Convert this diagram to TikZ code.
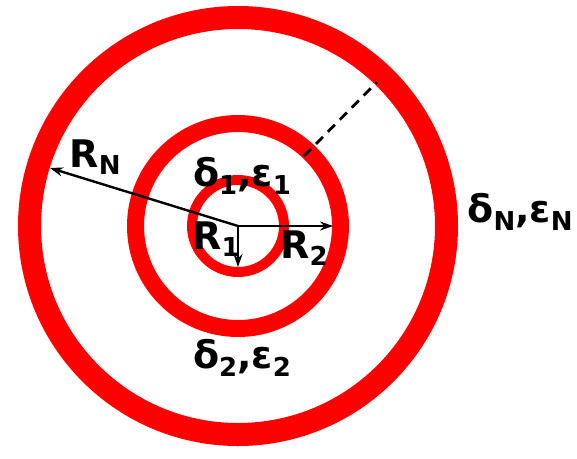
\documentclass[tikz,border=0pt]{standalone}
\usepackage{fontspec}
\setmainfont{DejaVu Sans}
\usetikzlibrary{arrows.meta}
\newcommand{\pedice}[1]{\raisebox{-0.2em}{\fontsize{26}{26}\selectfont #1}}

\begin{document}
\begin{tikzpicture}[x=1pt, y=-1pt, line cap=round, line join=round,
    etich/.style={font=\bfseries\fontsize{38}{38}\selectfont, inner sep=0pt},
    raggio/.style={-{Stealth[length=13pt,width=9pt]}, line width=2.4pt}]
  \useasboundingbox (0,0) rectangle (577,458);
  % centro comune degli anelli
  \coordinate (O) at (238,226);

  % anelli rossi (esterno, medio, interno)
  \fill[red, even odd rule] (O) circle[radius=220] (O) circle[radius=197];
  \fill[red, even odd rule] (O) circle[radius=111] (O) circle[radius=94];
  \fill[red, even odd rule] (O) circle[radius=51] (O) circle[radius=41];

  % estremi delle frecce dei raggi
  \coordinate (pN) at (50,168);
  \coordinate (p2) at (333,226);
  \coordinate (p1) at (238,267);
  \draw[raggio] (O) -- (pN);
  \draw[raggio] (O) -- (p2);
  \draw[raggio] (O) -- (p1);

  % tratteggio tra anello medio ed esterno
  \coordinate (d1) at (304,156);
  \coordinate (d2) at (377,82);
  \draw[line width=2.8pt, line cap=butt, dash pattern=on 10pt off 7pt] (d1) -- (d2);

  % etichette
  \node[etich] (RN) at (95,157) {R\pedice{N}};
  \node[etich] (R1) at (216,239) {R\pedice{1}};
  \node[etich] (R2) at (304,248) {R\pedice{2}};
  \node[etich] (de1) at (242,176) {δ\pedice{1},ε\pedice{1}};
  \node[etich] (de2) at (242,358) {δ\pedice{2},ε\pedice{2}};
  \node[etich] (deN) at (520,212) {δ\pedice{N},ε\pedice{N}};
\end{tikzpicture}
\end{document}
